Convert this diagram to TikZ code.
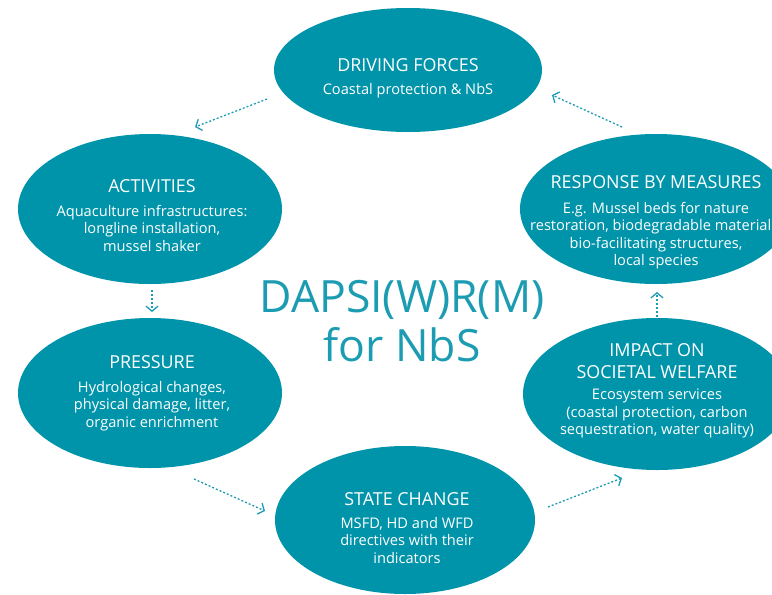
\documentclass[tikz,border=0pt]{standalone}
\usepackage{fontspec}
\setmainfont{Open Sans}
\usetikzlibrary{shapes.geometric,arrows.meta}
\definecolor{tealfill}{RGB}{0,148,170}
\definecolor{tealline}{RGB}{28,156,178}
\begin{document}
\begin{tikzpicture}[x=1pt,y=-1pt,
  blob/.style={ellipse, fill=tealfill, draw=none, inner sep=0pt},
  head/.style={text=white, font=\fontsize{17.9}{22}\selectfont, inner sep=0pt, align=center},
  body/.style={text=white, font=\fontsize{14.6}{17.5}\selectfont, anchor=north, inner sep=0pt, align=center},
  conn/.style={draw=tealline, line width=1.3pt, dash pattern=on 2pt off 2pt,
    -{Straight Barb[length=5pt,width=12pt,line width=1.3pt]}},
  title/.style={text=tealline, font=\fontsize{44.5}{49}\selectfont, align=center, inner sep=0pt, anchor=north}]
\path[use as bounding box] (0,0) rectangle (772,595);
\clip (0,0) rectangle (772,595);

% ellipses
\node[blob, minimum width=268pt, minimum height=124pt] (df) at (408,70) {};
\node[blob, minimum width=264pt, minimum height=150pt] (act) at (150,209) {};
\node[blob, minimum width=264pt, minimum height=150pt] (pre) at (150,393) {};
\node[blob, minimum width=260pt, minimum height=148pt] (st) at (405,520) {};
\node[blob, minimum width=268pt, minimum height=152pt] (imp) at (657,394) {};
\node[blob, minimum width=272pt, minimum height=150pt] (res) at (656,209) {};

% texts
\node[head, anchor=base] (dfh) at (408,71) {DRIVING FORCES};
\node[body] (dfb) at (408,83) {Coastal protection \& NbS};

\node[head, anchor=base] (acth) at (152,192) {ACTIVITIES};
\node[body] (actb) at (152,205) {Aquaculture infrastructures:\\longline installation,\\mussel shaker};

\node[head, anchor=base] (preh) at (152,368) {PRESSURE};
\node[body] (preb) at (152,381) {Hydrological changes,\\physical damage, litter,\\organic enrichment};

\node[head, anchor=base] (sth) at (407,505) {STATE CHANGE};
\node[body] (stb) at (407,517) {MSFD, HD and WFD\\directives with their\\indicators};

\node[head, anchor=north] (imph) at (657,343) {IMPACT ON\\SOCIETAL WELFARE};
\node[body] (impb) at (657,389) {Ecosystem services\\(coastal protection, carbon\\sequestration, water quality)};

\node[head, anchor=base] (resh) at (656,188) {RESPONSE BY MEASURES};
\node[body] (resb) at (656,202) {E.g. Mussel beds for nature\\restoration, biodegradable materials,\\bio-facilitating structures,\\local species};

\node[title] (ttl) at (402,280) {DAPSI(W)R(M)\\for NbS};

% connectors
\coordinate (a1s) at (267,99);  \coordinate (a1e) at (195,127);
\coordinate (a2s) at (152,290); \coordinate (a2e) at (152,312);
\coordinate (a3s) at (194,479); \coordinate (a3e) at (265,511);
\coordinate (a4s) at (548,507); \coordinate (a4e) at (622,478);
\coordinate (a5s) at (657,317); \coordinate (a5e) at (657,292);
\coordinate (a6s) at (622,127); \coordinate (a6e) at (552,95);
\draw[conn] (a1s) -- (a1e);
\draw[conn] (a2s) -- (a2e);
\draw[conn] (a3s) -- (a3e);
\draw[conn] (a4s) -- (a4e);
\draw[conn] (a5s) -- (a5e);
\draw[conn] (a6s) -- (a6e);
\end{tikzpicture}
\end{document}
